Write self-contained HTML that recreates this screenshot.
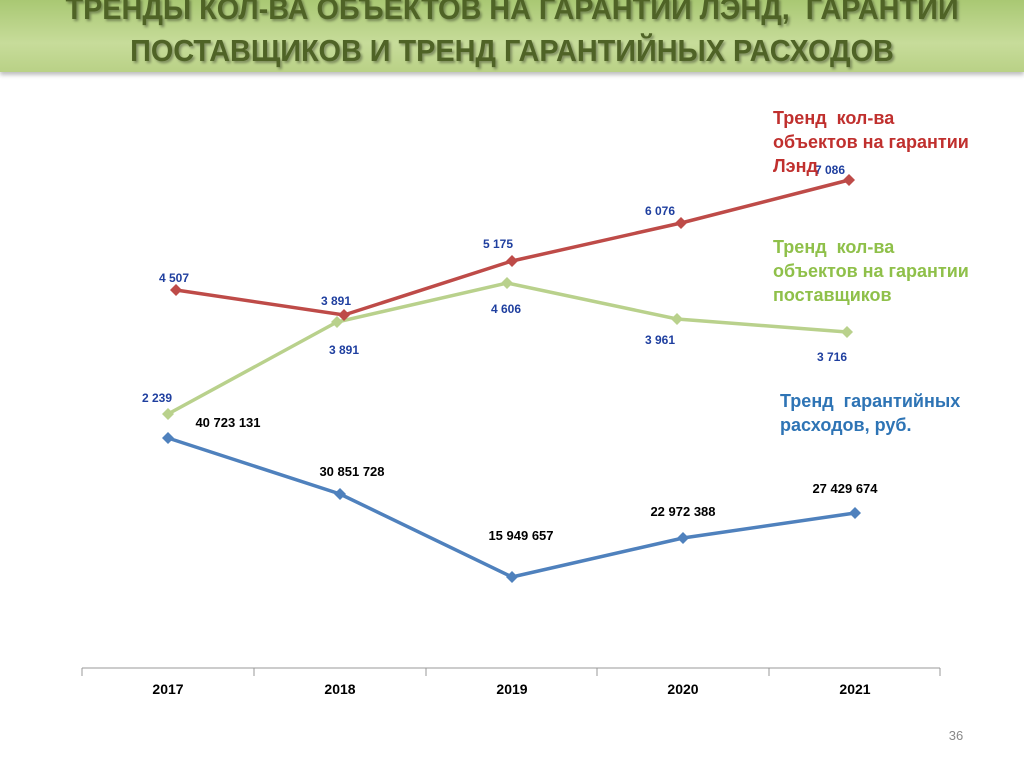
<!DOCTYPE html>
<html><head><meta charset="utf-8"><style>
html,body{margin:0;padding:0;width:1024px;height:767px;overflow:hidden;background:#fff;font-family:"Liberation Sans",sans-serif;}
.band{position:absolute;left:0;top:0;width:1024px;height:72px;background:linear-gradient(#a9c873,#c7dc9a 60%,#b9d186);box-shadow:0 3px 4px rgba(0,0,0,.25);}
.title{position:absolute;left:0;top:-12px;width:1024px;text-align:center;font-weight:bold;font-size:31px;line-height:42px;color:#4f6326;text-shadow:2px 2px 3px rgba(0,0,0,.35);transform:scaleX(0.93);transform-origin:512px 0;}
</style></head><body>
<div class="band"></div>
<div class="title">ТРЕНДЫ КОЛ-ВА ОБЪЕКТОВ НА ГАРАНТИИ ЛЭНД,&nbsp; ГАРАНТИИ<br>ПОСТАВЩИКОВ И ТРЕНД ГАРАНТИЙНЫХ РАСХОДОВ</div>
<svg width="1024" height="767" style="position:absolute;left:0;top:0" font-family="Liberation Sans, sans-serif">
<g stroke="#999" stroke-width="1">
<line x1="82" y1="668" x2="940" y2="668"/>
<line x1="82" y1="668" x2="82" y2="676"/><line x1="254" y1="668" x2="254" y2="676"/><line x1="426" y1="668" x2="426" y2="676"/><line x1="597" y1="668" x2="597" y2="676"/><line x1="769" y1="668" x2="769" y2="676"/><line x1="940" y1="668" x2="940" y2="676"/>
</g>
<g font-size="14" font-weight="bold" fill="#000" text-anchor="middle">
<text x="168" y="694">2017</text><text x="340" y="694">2018</text><text x="512" y="694">2019</text><text x="683" y="694">2020</text><text x="855" y="694">2021</text>
</g>
<polyline points="176,290 344,315 512,261 681,223 849,180" fill="none" stroke="#be4b48" stroke-width="3.5"/>
<polyline points="168,414 337,322 507,283 677,319 847,332" fill="none" stroke="#b9d18c" stroke-width="3.5"/>
<polyline points="168,438 340,494 512,577 683,538 855,513" fill="none" stroke="#4f81bd" stroke-width="3.5"/>
<g fill="#be4b48"><path d="M176,284l6,6-6,6-6-6z"/><path d="M344,309l6,6-6,6-6-6z"/><path d="M512,255l6,6-6,6-6-6z"/><path d="M681,217l6,6-6,6-6-6z"/><path d="M849,174l6,6-6,6-6-6z"/></g>
<g fill="#b9d18c"><path d="M168,408l6,6-6,6-6-6z"/><path d="M337,316l6,6-6,6-6-6z"/><path d="M507,277l6,6-6,6-6-6z"/><path d="M677,313l6,6-6,6-6-6z"/><path d="M847,326l6,6-6,6-6-6z"/></g>
<g fill="#4f81bd"><path d="M168,432l6,6-6,6-6-6z"/><path d="M340,488l6,6-6,6-6-6z"/><path d="M512,571l6,6-6,6-6-6z"/><path d="M683,532l6,6-6,6-6-6z"/><path d="M855,507l6,6-6,6-6-6z"/></g>
<g font-size="12" font-weight="bold" fill="#1f3f9f" text-anchor="middle">
<text x="174" y="282">4 507</text><text x="336" y="305">3 891</text><text x="498" y="248">5 175</text><text x="660" y="215">6 076</text><text x="830" y="174">7 086</text>
<text x="157" y="402">2 239</text><text x="344" y="354">3 891</text><text x="506" y="313">4 606</text><text x="660" y="344">3 961</text><text x="832" y="361">3 716</text>
</g>
<g font-size="13" font-weight="bold" fill="#000" text-anchor="middle">
<text x="228" y="427">40 723 131</text><text x="352" y="476">30 851 728</text><text x="521" y="540">15 949 657</text><text x="683" y="516">22 972 388</text><text x="845" y="493">27 429 674</text>
</g>
<g font-size="18" font-weight="bold">
<text fill="#c0302e" x="773" y="124">Тренд&#160; кол-ва</text><text fill="#c0302e" x="773" y="148">объектов на гарантии</text><text fill="#c0302e" x="773" y="172">Лэнд</text>
<text fill="#8fc04a" x="773" y="253">Тренд&#160; кол-ва</text><text fill="#8fc04a" x="773" y="277">объектов на гарантии</text><text fill="#8fc04a" x="773" y="301">поставщиков</text>
<text fill="#2e74b5" x="780" y="407">Тренд&#160; гарантийных</text><text fill="#2e74b5" x="780" y="431">расходов, руб.</text>
</g>
<text x="956" y="740" font-size="13" fill="#888" text-anchor="middle">36</text>
</svg>
</body></html>
